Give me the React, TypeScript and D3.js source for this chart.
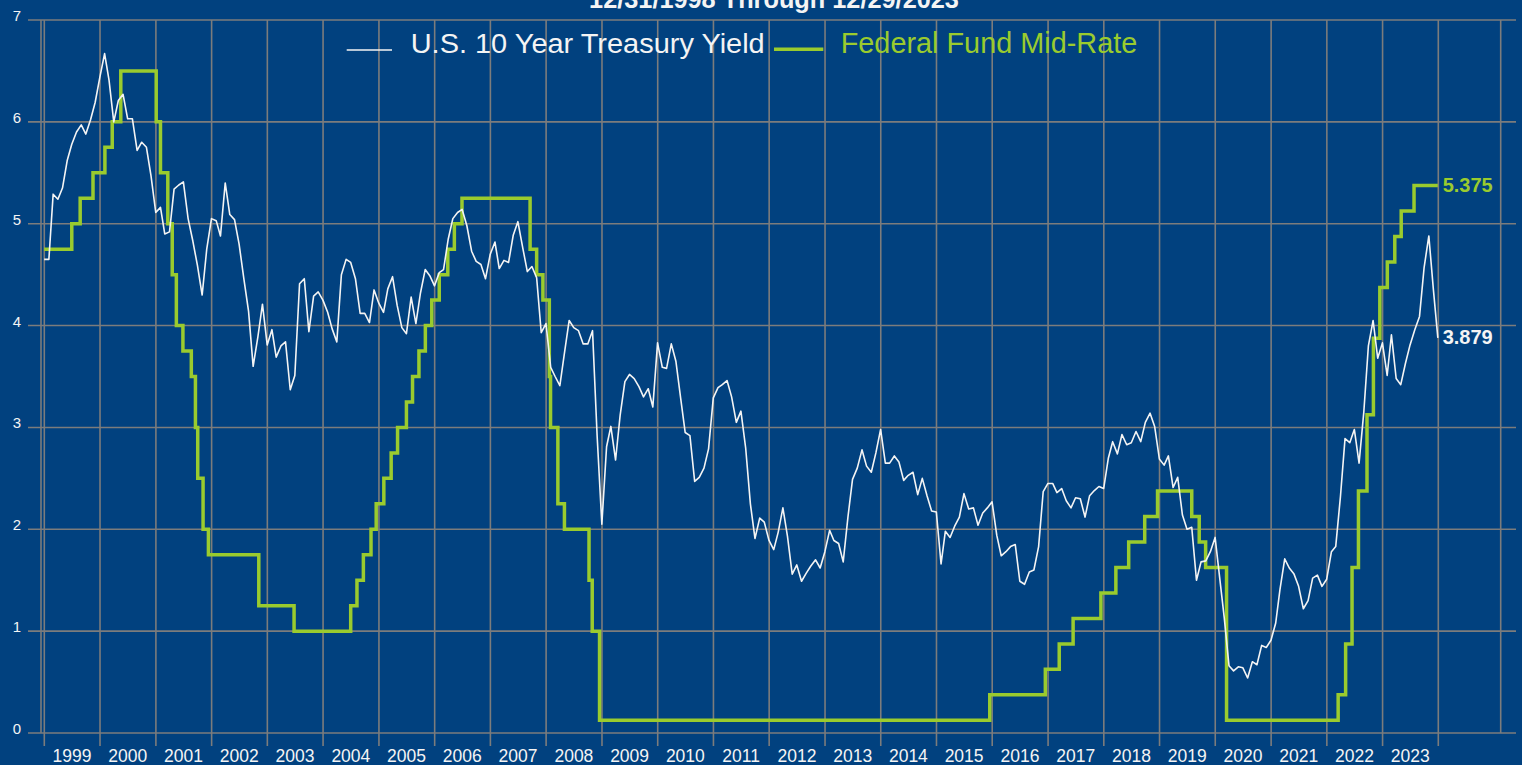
import React from "react";
import * as d3 from "d3";

const TITLE = "12/31/1998 Through 12/29/2023";
const TREASURY_NAME = "U.S. 10 Year Treasury Yield";
const FED_NAME = "Federal Fund Mid-Rate";

// month-end 10Y yields, Dec 1998 .. Dec 2023
const treasuryYield = [
  4.65,
  4.65, 5.29, 5.24, 5.35, 5.62, 5.78, 5.9, 5.97, 5.88, 6.02, 6.19, 6.44,
  6.67, 6.41, 6.0, 6.21, 6.27, 6.03, 6.03, 5.72, 5.8, 5.75, 5.47, 5.11,
  5.16, 4.9, 4.92, 5.34, 5.38, 5.41, 5.05, 4.83, 4.59, 4.3, 4.75, 5.05,
  5.03, 4.88, 5.4, 5.09, 5.04, 4.8, 4.46, 4.14, 3.6, 3.89, 4.21, 3.81,
  3.96, 3.69, 3.8, 3.84, 3.37, 3.51, 4.41, 4.46, 3.94, 4.29, 4.33, 4.25,
  4.13, 3.97, 3.84, 4.5, 4.65, 4.62, 4.46, 4.12, 4.12, 4.03, 4.35, 4.22,
  4.13, 4.36, 4.48, 4.2, 3.98, 3.92, 4.28, 4.02, 4.32, 4.55, 4.49, 4.39,
  4.52, 4.55, 4.85, 5.05, 5.11, 5.14, 4.98, 4.73, 4.63, 4.6, 4.46, 4.7,
  4.82, 4.56, 4.64, 4.62, 4.89, 5.02, 4.77, 4.53, 4.58, 4.47, 3.93, 4.02,
  3.59, 3.5, 3.41, 3.73, 4.05, 3.98, 3.95, 3.82, 3.82, 3.95, 2.92, 2.05,
  2.81, 3.01, 2.68, 3.12, 3.45, 3.52, 3.48, 3.4, 3.3, 3.38, 3.2, 3.83,
  3.59, 3.58, 3.82, 3.65, 3.29, 2.95, 2.92, 2.47, 2.51, 2.6, 2.79, 3.29,
  3.39, 3.42, 3.46, 3.3, 3.05, 3.16, 2.8, 2.25, 1.91, 2.11, 2.07, 1.89,
  1.8, 1.97, 2.21, 1.93, 1.56, 1.65, 1.49, 1.57, 1.64, 1.7, 1.62, 1.78,
  1.99, 1.89, 1.86, 1.68, 2.12, 2.49, 2.6, 2.78, 2.62, 2.56, 2.75, 2.98,
  2.65, 2.65, 2.72, 2.66, 2.48, 2.53, 2.56, 2.34, 2.5, 2.33, 2.18, 2.17,
  1.66, 1.98, 1.92, 2.03, 2.12, 2.35, 2.2, 2.21, 2.04, 2.16, 2.21, 2.27,
  1.94, 1.74, 1.78, 1.83, 1.85, 1.49, 1.46, 1.58, 1.6, 1.83, 2.37, 2.45,
  2.45, 2.36, 2.4, 2.28, 2.21, 2.31, 2.3, 2.12, 2.33, 2.38, 2.42, 2.4,
  2.7, 2.86, 2.74, 2.93, 2.83, 2.85, 2.96, 2.86, 3.05, 3.14, 3.01, 2.69,
  2.63, 2.72, 2.41, 2.51, 2.14, 2.0, 2.02, 1.5, 1.68, 1.69, 1.78, 1.92,
  1.51, 1.13, 0.66, 0.61, 0.65, 0.64, 0.54, 0.7, 0.67, 0.86, 0.84, 0.91,
  1.08, 1.41, 1.71, 1.62, 1.56, 1.44, 1.22, 1.3, 1.52, 1.55, 1.44, 1.51,
  1.78, 1.83, 2.32, 2.89, 2.85, 2.98, 2.65, 3.15, 3.8, 4.05, 3.68, 3.83,
  3.51, 3.91, 3.48, 3.42, 3.63, 3.81, 3.96, 4.09, 4.57, 4.88, 4.35, 3.879,
];

// fed funds target (mid of range after 2008), value from each change date on
const fedChangeDates = [
  "1998-12-31", "1999-06-30", "1999-08-24", "1999-11-16", "2000-02-02", "2000-03-21",
  "2000-05-16", "2001-01-03", "2001-01-31", "2001-03-20", "2001-04-18", "2001-05-15",
  "2001-06-27", "2001-08-21", "2001-09-17", "2001-10-02", "2001-11-06", "2001-12-11",
  "2002-11-06", "2003-06-25", "2004-06-30", "2004-08-10", "2004-09-21", "2004-11-10",
  "2004-12-14", "2005-02-02", "2005-03-22", "2005-05-03", "2005-06-30", "2005-08-09",
  "2005-09-20", "2005-11-01", "2005-12-13", "2006-01-31", "2006-03-28", "2006-05-10",
  "2006-06-29", "2007-09-18", "2007-10-31", "2007-12-11", "2008-01-22", "2008-01-30",
  "2008-03-18", "2008-04-30", "2008-10-08", "2008-10-29", "2008-12-16", "2015-12-16",
  "2016-12-14", "2017-03-15", "2017-06-14", "2017-12-13", "2018-03-21", "2018-06-13",
  "2018-09-26", "2018-12-19", "2019-07-31", "2019-09-18", "2019-10-30", "2020-03-15",
  "2022-03-16", "2022-05-04", "2022-06-15", "2022-07-27", "2022-09-21", "2022-11-02",
  "2022-12-14", "2023-02-01", "2023-03-22", "2023-05-03", "2023-07-26", "2023-12-29",
];
const fedMidRate = [
  4.75, 5.0, 5.25, 5.5, 5.75, 6.0,
  6.5, 6.0, 5.5, 5.0, 4.5, 4.0,
  3.75, 3.5, 3.0, 2.5, 2.0, 1.75,
  1.25, 1.0, 1.25, 1.5, 1.75, 2.0,
  2.25, 2.5, 2.75, 3.0, 3.25, 3.5,
  3.75, 4.0, 4.25, 4.5, 4.75, 5.0,
  5.25, 4.75, 4.5, 4.25, 3.5, 3.0,
  2.25, 2.0, 1.5, 1.0, 0.125, 0.375,
  0.625, 0.875, 1.125, 1.375, 1.625, 1.875,
  2.125, 2.375, 2.125, 1.875, 1.625, 0.125,
  0.375, 0.875, 1.625, 2.375, 3.125, 3.875,
  4.375, 4.625, 4.875, 5.125, 5.375, 5.375,
];

const yTicks = [0, 1, 2, 3, 4, 5, 6, 7];
const years = d3.range(1999, 2024);

const BG = "#01417f";
const GRID = "#7c7c7c";
const GREEN = "#9acb2e";
const WHITE = "#f4f4f4";
const FONT = "'Liberation Sans', Arial, sans-serif";

const parse = (s: string) => {
  const [y, m, d] = s.split("-").map(Number);
  return new Date(y, m - 1, d);
};

export default function App() {
  const W = 1522, H = 765;
  const left = 44.3, right = 1500.7, top = 20, bottom = 733;

  const x = d3.scaleTime()
    .domain([new Date(1999, 0, 1), new Date(2024, 0, 1)])
    .range([left, 1438.3]);
  const y = d3.scaleLinear().domain([0, 7]).range([bottom, top]);

  const tyPoints = treasuryYield.map((v, i) => {
    const d = i === treasuryYield.length - 1 ? parse("2023-12-29") : new Date(1998, 12 + i, 0);
    return { d, v };
  });
  const fedPoints = fedChangeDates.map((s, i) => ({ d: parse(s), v: fedMidRate[i] }));

  const line = d3.line<{ d: Date; v: number }>()
    .x((p) => x(p.d))
    .y((p) => y(p.v));
  const stepLine = d3.line<{ d: Date; v: number }>()
    .x((p) => x(p.d))
    .y((p) => y(p.v))
    .curve(d3.curveStepAfter);

  const gridYears = d3.range(1999, 2025).map((yr) => x(new Date(yr, 0, 1)));
  const lastTy = tyPoints[tyPoints.length - 1];
  const lastFed = fedPoints[fedPoints.length - 1];

  return (
    <svg width={W} height={H} style={{ position: "absolute", left: 0, top: 0, display: "block" }}
      fontFamily={FONT}>
      <rect x={0} y={0} width={W} height={H} fill={BG} />
      <text x={774} y={7.5} textAnchor="middle" fontSize={25.3} fontWeight="bold" fill={WHITE}>
        {TITLE}
      </text>

      {yTicks.map((t) => (
        <line key={"h" + t} x1={28} x2={1516} y1={y(t)} y2={y(t)} stroke={GRID} strokeWidth={1.6} />
      ))}
      {gridYears.map((gx, i) => (
        <line key={"v" + i} x1={gx} x2={gx} y1={top} y2={746} stroke={GRID} strokeWidth={1.6} />
      ))}
      <line x1={41} x2={41} y1={top} y2={bottom} stroke={GRID} strokeWidth={1.6} />
      <line x1={right} x2={right} y1={top} y2={bottom} stroke={GRID} strokeWidth={1.6} />

      {yTicks.map((t) => (
        <text key={"yl" + t} x={21} y={y(t) + 1} textAnchor="end" fontSize={15} fill={WHITE}>
          {t}
        </text>
      ))}
      {years.map((yr) => (
        <text key={"xl" + yr} x={x(new Date(yr, 6, 1))} y={762} textAnchor="middle" fontSize={17.5} fill={WHITE}>
          {yr}
        </text>
      ))}

      <path d={stepLine(fedPoints) || ""} fill="none" stroke={GREEN} strokeWidth={3.5} strokeLinejoin="miter" />
      <path d={line(tyPoints) || ""} fill="none" stroke={WHITE} strokeWidth={1.6} strokeLinejoin="round" />

      <text x={1442.7} y={y(lastFed.v) + 6.5} fontSize={20} fontWeight="bold" fill={GREEN}>
        {lastFed.v.toFixed(3)}
      </text>
      <text x={1442.7} y={y(lastTy.v) + 6.5} fontSize={20} fontWeight="bold" fill={WHITE}>
        {lastTy.v.toFixed(3)}
      </text>

      <line x1={346.7} x2={392} y1={50} y2={50} stroke={WHITE} strokeWidth={1.5} />
      <text x={410.7} y={53.3} fontSize={28.4} fill={WHITE} textLength={354} lengthAdjust="spacingAndGlyphs">
        {TREASURY_NAME}
      </text>
      <line x1={774} x2={823.3} y1={49.3} y2={49.3} stroke={GREEN} strokeWidth={3.5} />
      <text x={840.7} y={53.3} fontSize={28.6} fill={GREEN} textLength={296.6} lengthAdjust="spacingAndGlyphs">
        {FED_NAME}
      </text>
    </svg>
  );
}
